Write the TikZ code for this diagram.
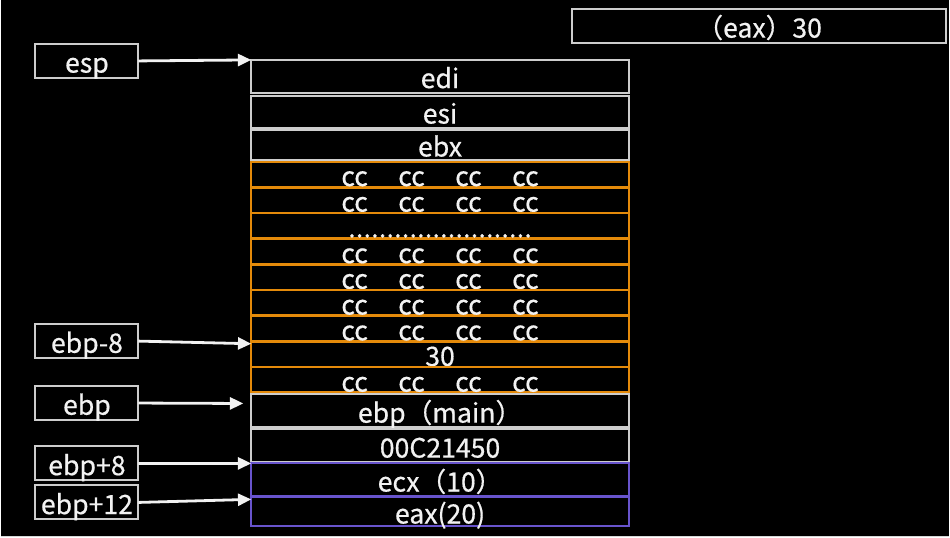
\documentclass[tikz,border=0pt]{standalone}
\usepackage{fontspec}
\setmainfont{Noto Sans CJK SC}[FakeBold=0.6]
\usepackage{xcolor}
\usepackage{tikz}
\usetikzlibrary{arrows.meta,positioning,calc}
\definecolor{frame}{RGB}{205,205,205}
\definecolor{padorange}{RGB}{228,138,10}
\definecolor{argblue}{RGB}{104,84,205}
\definecolor{ink}{RGB}{242,242,242}
\newcommand{\fourcc}{\makebox[42.75pt]{cc}\makebox[42.75pt]{cc}\makebox[42.75pt]{cc}\makebox[42.75pt]{cc}}
\newcommand{\dotrow}{\makebox[138pt]{\xleaders\hbox to 5.75pt{\hss.\hss}\hfill}}

\begin{document}
\begin{tikzpicture}[x=0.75pt,y=-0.75pt,font=\fontsize{20pt}{23pt}\selectfont,>=Latex]
\tikzset{box/.style={draw=frame,line width=1.5pt,fill=black,text=ink,inner sep=0pt,outer sep=0pt,
    text height=17.5pt,text depth=0pt},
  reg/.style={box,minimum width=283.5pt},
  pad/.style={reg,draw=padorange,minimum height=18.8pt},
  arg/.style={reg,draw=argblue,minimum height=24.75pt},
  lbl/.style={box,minimum width=77.25pt,minimum height=25.5pt},
  ptr/.style={-{Triangle[length=10pt,width=9pt]},draw=ink,line width=2.1pt}}
\fill[black] (0,0) rectangle (950,538);
\draw[frame!80,line width=0.8pt] (0,537) -- (950,537);
% stack frame
\node[reg,minimum height=24.75pt] (edi) at (440,76.5) {edi};
\node[reg,minimum height=24pt,below=2.25pt of edi] (esi) {esi};
\node[reg,minimum height=22.5pt,below=1.5pt of esi] (ebx) {ebx};
\node[pad,below=1.5pt of ebx] (cc1) {\fourcc};
\node[pad,below=0.5pt of cc1] (cc2) {\fourcc};
\node[pad,below=0.5pt of cc2] (cc3) {\dotrow};
\node[pad,below=0.5pt of cc3] (cc4) {\fourcc};
\node[pad,below=0.5pt of cc4] (cc5) {\fourcc};
\node[pad,below=0.5pt of cc5] (cc6) {\fourcc};
\node[pad,below=0.5pt of cc6] (cc7) {\fourcc};
\node[pad,below=0.5pt of cc7] (cc8) {30};
\node[pad,below=0.5pt of cc8] (cc9) {\fourcc};
\node[reg,minimum height=24.75pt,below=1.5pt of cc9] (ebpm) {ebp（main）};
\node[reg,minimum height=24.75pt,below=1.5pt of ebpm] (ret) {00C21450};
\node[arg,below=0.75pt of ret] (ecx) {ecx（10）};
\node[arg,minimum height=21.75pt,below=0.75pt of ecx] (eax) {eax(20)};
% registers
\node[box,minimum width=281.25pt,minimum height=25.5pt] (res) at (759.5,26) {（eax）30};
\node[lbl] (esp) at (86.5,61) {esp};
\node[lbl] (loc) at (86.5,341.5) {ebp-8};
\node[lbl] (ebp) at (86.5,403.5) {ebp};
\node[lbl] (par1) at (86.5,464) {ebp+8};
\node[lbl] (par2) at (86.5,503) {ebp+12};
\coordinate (ebptip) at ($(ebpm.north west)+(-8,9)$);
\draw[ptr] (esp.east) -- (edi.north west);
\draw[ptr] (loc.east) -- ($(cc8.north west)+(0,2)$);
\draw[ptr] (ebp.east) -- (ebptip);
\draw[ptr] (par1.east) -- (ecx.north west);
\draw[ptr] (par2.east) -- ($(eax.north west)+(0,2)$);
\end{tikzpicture}
\end{document}
